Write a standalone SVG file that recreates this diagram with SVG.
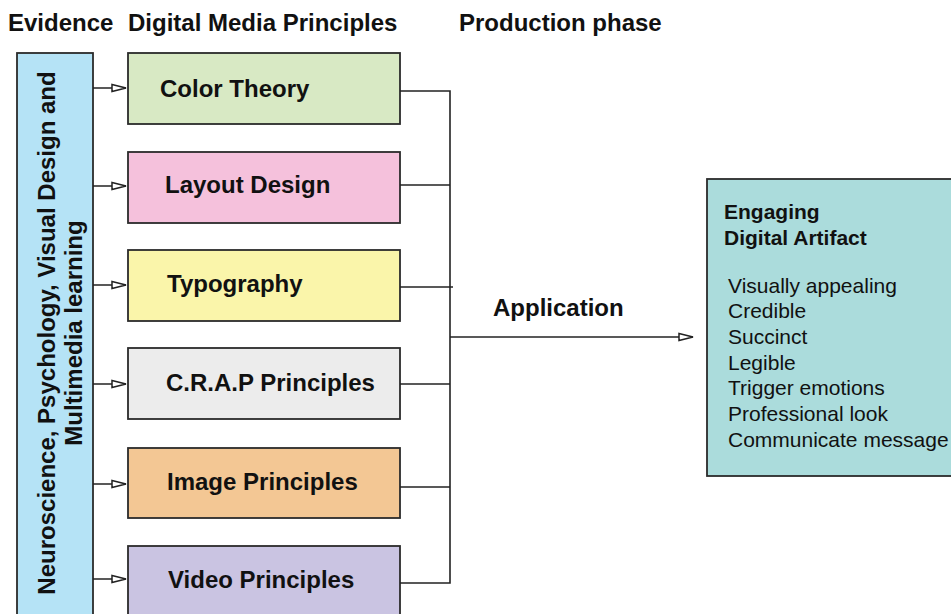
<svg xmlns="http://www.w3.org/2000/svg" width="951" height="614" viewBox="0 0 951 614">
  <style>
    .hdr { font-family: "Liberation Sans", Arial, sans-serif; font-weight: bold; font-size: 24px; fill: #111; }
    .lbl { font-family: "Liberation Sans", Arial, sans-serif; font-weight: bold; font-size: 24px; fill: #111; }
    .box { stroke: #2b2b2b; stroke-width: 1.8; }
    .wire { fill: none; stroke: #222; stroke-width: 1.6; }
    .out-title { font-family: "Liberation Sans", Arial, sans-serif; font-weight: bold; font-size: 21px; fill: #111; }
    .out-item { font-family: "Liberation Sans", Arial, sans-serif; font-size: 21px; fill: #111; }
  </style>
  <defs>
    <marker id="openArrow" viewBox="0 0 16 10" refX="15" refY="5" markerWidth="16" markerHeight="10" markerUnits="userSpaceOnUse" orient="auto">
      <path d="M1,1.5 L15,5 L1,8.5 Z" fill="#fff" stroke="#222" stroke-width="1.5" stroke-linejoin="miter"/>
    </marker>
  </defs>
  <rect width="951" height="614" fill="#fff"/>

  <!-- column headers -->
  <g id="headers">
    <text class="hdr" x="8" y="31">Evidence</text>
    <text class="hdr" x="128" y="31">Digital Media Principles</text>
    <text class="hdr" x="459" y="31">Production phase</text>
  </g>

  <!-- evidence column -->
  <g id="evidence">
    <rect class="box" x="17" y="53" width="76" height="580" fill="#b5e3f6"/>
    <g transform="translate(55,333) rotate(-90)">
      <text class="lbl" x="0" y="0" text-anchor="middle">Neuroscience, Psychology, Visual Design and</text>
      <text class="lbl" x="0" y="27" text-anchor="middle">Multimedia learning</text>
    </g>
  </g>

  <!-- principle boxes -->
  <g id="color-theory">
    <rect class="box" x="128" y="53" width="272" height="71" fill="#d8e9c4"/>
    <text class="lbl" x="160" y="97">Color Theory</text>
  </g>
  <g id="layout-design">
    <rect class="box" x="128" y="152" width="272" height="71" fill="#f5c1dc"/>
    <text class="lbl" x="165" y="193">Layout Design</text>
  </g>
  <g id="typography">
    <rect class="box" x="128" y="250" width="272" height="71" fill="#faf5aa"/>
    <text class="lbl" x="167" y="292">Typography</text>
  </g>
  <g id="crap-principles">
    <rect class="box" x="128" y="348" width="272" height="71" fill="#ececec"/>
    <text class="lbl" x="166" y="391">C.R.A.P Principles</text>
  </g>
  <g id="image-principles">
    <rect class="box" x="128" y="448" width="272" height="70" fill="#f3c794"/>
    <text class="lbl" x="167" y="490">Image Principles</text>
  </g>
  <g id="video-principles">
    <rect class="box" x="128" y="546" width="272" height="90" fill="#cac4e2"/>
    <text class="lbl" x="168" y="588">Video Principles</text>
  </g>

  <!-- result box -->
  <g id="digital-artifact">
    <rect class="box" x="707" y="179" width="260" height="297" fill="#abdcdc"/>
    <text class="out-title" x="724" y="219">Engaging</text>
    <text class="out-title" x="724" y="245">Digital Artifact</text>
    <text class="out-item" x="728" y="293">Visually appealing</text>
    <text class="out-item" x="728" y="318">Credible</text>
    <text class="out-item" x="728" y="344">Succinct</text>
    <text class="out-item" x="728" y="370">Legible</text>
    <text class="out-item" x="728" y="395">Trigger emotions</text>
    <text class="out-item" x="728" y="421">Professional look</text>
    <text class="out-item" x="728" y="447">Communicate message</text>
  </g>

  <!-- connectors -->
  <g id="connectors">
    <line class="wire" x1="93" y1="88" x2="126" y2="88" marker-end="url(#openArrow)"/>
    <line class="wire" x1="93" y1="186" x2="126" y2="186" marker-end="url(#openArrow)"/>
    <line class="wire" x1="93" y1="285" x2="126" y2="285" marker-end="url(#openArrow)"/>
    <line class="wire" x1="93" y1="384" x2="126" y2="384" marker-end="url(#openArrow)"/>
    <line class="wire" x1="93" y1="484" x2="126" y2="484" marker-end="url(#openArrow)"/>
    <line class="wire" x1="93" y1="579" x2="126" y2="579" marker-end="url(#openArrow)"/>

    <polyline class="wire" points="400,91 450,91 450,583 400,583"/>
    <line class="wire" x1="400" y1="185" x2="450" y2="185"/>
    <line class="wire" x1="400" y1="287" x2="453" y2="287"/>
    <line class="wire" x1="400" y1="384" x2="450" y2="384"/>
    <line class="wire" x1="400" y1="487" x2="450" y2="487"/>
    <line class="wire" x1="450" y1="337" x2="693" y2="337" marker-end="url(#openArrow)"/>
    <text class="lbl" x="493" y="316">Application</text>
  </g>
</svg>
